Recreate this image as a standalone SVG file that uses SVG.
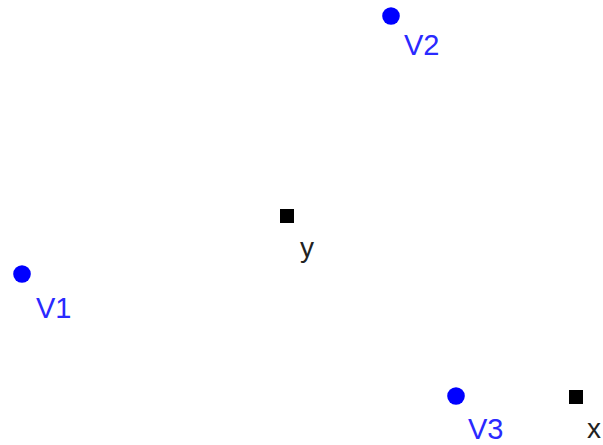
<svg xmlns="http://www.w3.org/2000/svg" width="603" height="445" viewBox="0 0 603 445">
<style>
.v{fill:#0000ff}
.vl{fill:#2a2aff;font-family:"Liberation Sans",Arial,sans-serif;font-size:29px}
.p{fill:#000}
.pl{fill:#222;font-family:"Liberation Sans",Arial,sans-serif;font-size:28px}
</style>
<rect width="603" height="445" fill="#fff"/>
<g id="connectors"></g>
<g id="V1"><circle class="v" cx="22" cy="274" r="8.8"/><text class="vl" x="36" y="318">V1</text></g>
<g id="V2"><circle class="v" cx="391" cy="16" r="8.8"/><text class="vl" x="404" y="55">V2</text></g>
<g id="V3"><circle class="v" cx="456" cy="396" r="8.8"/><text class="vl" x="468" y="439">V3</text></g>
<g id="y"><rect class="p" x="280" y="209" width="14" height="14"/><text class="pl" x="300" y="257">y</text></g>
<g id="x"><rect class="p" x="569" y="390" width="14" height="14"/><text class="pl" x="587" y="438">x</text></g>
</svg>
